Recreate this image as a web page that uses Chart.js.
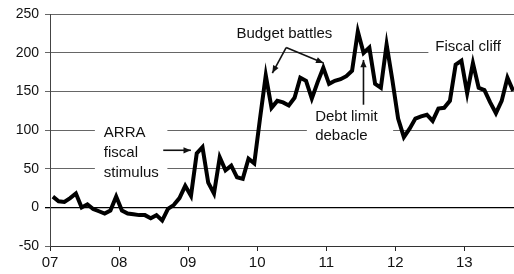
<!DOCTYPE html>
<html>
<head>
<meta charset="utf-8">
<script src="https://cdn.jsdelivr.net/npm/chart.js@4"></script>
<style>
  html, body { margin: 0; padding: 0; background: #fff; }
  #wrap { width: 514px; height: 274px; }
</style>
</head>
<body>
<div id="wrap"><canvas id="chart"></canvas></div>
<script>
// monthly series, Jan 2007 .. Sep 2013
const startYear = 2007;
const values = [
  14, 8, 7, 12, 18, 0, 4, -2, -5, -8, -4, 14,            // 2007
  -4, -8, -9, -10, -10, -14, -10, -17, -2, 3, 12, 28,    // 2008
  15, 70, 78, 32, 18, 65, 48, 54, 39, 37, 63, 57,        // 2009
  115, 171, 129, 138, 136, 132, 142, 168, 164, 141, 162, 181, // 2010
  160, 164, 166, 170, 177, 228, 200, 207, 160, 155, 211, 165, // 2011
  115, 91, 102, 115, 118, 120, 112, 128, 129, 138, 185, 190,  // 2012
  148, 187, 155, 152, 136, 122, 138, 168, 151                 // 2013
];
const yearLabels = ['07', '08', '09', '10', '11', '12', '13'];
const yTicks = [-50, 0, 50, 100, 150, 200, 250];

const points = values.map((v, i) => ({ x: startYear + (i + 0.5) / 12, y: v }));

// annotation texts, placed in data space
const notes = [
  { lines: ['ARRA', 'fiscal', 'stimulus'], x: 2007.78, y: 96, step: 25.5 },
  { lines: ['Budget battles'], x: 2009.70, y: 225, step: 0 },
  { lines: ['Debt limit', 'debacle'], x: 2010.84, y: 117, step: 24.5 },
  { lines: ['Fiscal cliff'], x: 2012.58, y: 208, step: 0 }
];
const arrows = [
  { from: [2008.64, 74], to: [2009.04, 74] },
  { from: [2010.42, 207], to: [2010.22, 174] },
  { from: [2010.42, 207], to: [2010.96, 187] },
  { from: [2011.54, 133], to: [2011.54, 191] }
];
// white boxes that break the grid lines behind the texts
const boxes = [
  [2007.65, 109, 2008.70, 32],
  [2010.72, 132, 2011.97, 79],
  [2012.48, 221, 2013.8, 192]
];

const FONT = '"Liberation Sans", Arial, sans-serif';

const notesPlugin = {
  id: 'notes',
  beforeDatasetsDraw(chart) {
    const { ctx, scales: { x, y } } = chart;
    ctx.save();
    ctx.fillStyle = '#fff';
    boxes.forEach(b => {
      const x0 = x.getPixelForValue(b[0]), y0 = y.getPixelForValue(b[1]);
      const x1 = x.getPixelForValue(b[2]), y1 = y.getPixelForValue(b[3]);
      ctx.fillRect(x0, y0, x1 - x0, y1 - y0);
    });
    ctx.restore();
  },
  afterDatasetsDraw(chart) {
    const { ctx, scales: { x, y } } = chart;
    ctx.save();
    ctx.fillStyle = '#111';
    ctx.font = '15px ' + FONT;
    ctx.textAlign = 'left';
    ctx.textBaseline = 'middle';
    notes.forEach(n => {
      const px = x.getPixelForValue(n.x);
      const py = y.getPixelForValue(n.y);
      n.lines.forEach((t, k) => ctx.fillText(t, px, py + k * (n.step * 0.774)));
    });
    ctx.strokeStyle = '#111';
    ctx.lineWidth = 1.6;
    arrows.forEach(a => {
      const x0 = x.getPixelForValue(a.from[0]), y0 = y.getPixelForValue(a.from[1]);
      const x1 = x.getPixelForValue(a.to[0]), y1 = y.getPixelForValue(a.to[1]);
      const ang = Math.atan2(y1 - y0, x1 - x0);
      ctx.beginPath();
      ctx.moveTo(x0, y0);
      ctx.lineTo(x1, y1);
      ctx.stroke();
      ctx.beginPath();
      ctx.moveTo(x1, y1);
      ctx.lineTo(x1 - 8 * Math.cos(ang - 0.4), y1 - 8 * Math.sin(ang - 0.4));
      ctx.lineTo(x1 - 8 * Math.cos(ang + 0.4), y1 - 8 * Math.sin(ang + 0.4));
      ctx.closePath();
      ctx.fillStyle = '#111';
      ctx.fill();
    });
    ctx.restore();
  }
};

new Chart(document.getElementById('chart'), {
  type: 'line',
  data: {
    datasets: [{
      data: points,
      borderColor: '#000',
      borderWidth: 4,
      pointRadius: 0,
      tension: 0,
      borderJoinStyle: 'miter'
    }]
  },
  options: {
    responsive: true,
    maintainAspectRatio: false,
    animation: false,
    layout: { padding: { top: 6, right: 0, left: 0, bottom: 0 } },
    plugins: { legend: { display: false }, tooltip: { enabled: false } },
    scales: {
      x: {
        type: 'linear',
        min: startYear,
        max: 2013.72,
        afterBuildTicks(s) {
          s.ticks = yearLabels.map((_, i) => ({ value: startYear + i }));
        },
        afterFit(s) { s.height = 28; },
        ticks: {
          callback: (v) => yearLabels[Math.round(v) - startYear],
          color: '#111',
          font: { family: FONT, size: 15 },
          maxRotation: 0,
          padding: 3,
          autoSkip: false
        },
        grid: { drawOnChartArea: false, drawTicks: true, tickLength: 5, color: '#222' },
        border: { display: true, color: '#333', width: 1 }
      },
      y: {
        min: -50,
        max: 250,
        afterBuildTicks(s) { s.ticks = yTicks.map(v => ({ value: v })); },
        afterFit(s) { s.width = 50; },
        ticks: {
          color: '#111',
          font: { family: FONT, size: 14 },
          padding: 6
        },
        grid: {
          color: (c) => c.tick && c.tick.value === 0 ? '#000' : '#666',
          lineWidth: (c) => c.tick && c.tick.value === 0 ? 1.3 : 1,
          tickLength: 5
        },
        border: { display: true, color: '#444', width: 1 }
      }
    }
  },
  plugins: [notesPlugin]
});
</script>
</body>
</html>
